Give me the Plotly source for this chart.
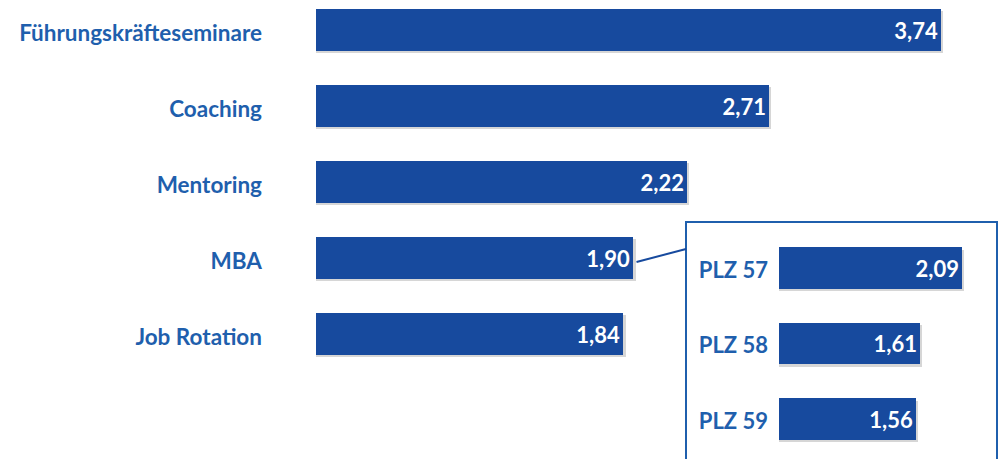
import plotly.graph_objects as go

categories = ["Führungskräfteseminare", "Coaching", "Mentoring", "MBA", "Job Rotation"]
values = [3.74, 2.71, 2.22, 1.90, 1.84]

plz_categories = ["PLZ 57", "PLZ 58", "PLZ 59"]
plz_values = [2.09, 1.61, 1.56]

BAR = "#174A9E"
LABEL = "#1F5FAD"
SHADOW = "#d6d6d6"
FONT = "Lato"

W, H = 1002, 459

def fmt(v):
    return f"{v:.2f}".replace(".", ",")

fig = go.Figure()

# main chart: shadow + bars
fig.add_trace(go.Bar(
    y=categories, x=[v + 0.014 for v in values], orientation="h",
    width=0.553, offset=-0.553 / 2 + 0.03,
    marker=dict(color=SHADOW, line=dict(width=0)),
    hoverinfo="skip", xaxis="x", yaxis="y", showlegend=False,
))
fig.add_trace(go.Bar(
    y=categories, x=values, orientation="h",
    width=0.553,
    marker=dict(color=BAR, line=dict(width=0)),
    text=[fmt(v) for v in values], textposition="inside",
    insidetextanchor="end", textangle=0,
    textfont=dict(family=FONT, size=22, color="white", weight="bold"),
    xaxis="x", yaxis="y", showlegend=False,
))

# inset chart
fig.add_trace(go.Bar(
    y=plz_categories, x=[v + 0.027 for v in plz_values], orientation="h",
    width=0.55, offset=-0.55 / 2 + 0.03,
    marker=dict(color=SHADOW, line=dict(width=0)),
    hoverinfo="skip", xaxis="x2", yaxis="y2", showlegend=False,
))
fig.add_trace(go.Bar(
    y=plz_categories, x=plz_values, orientation="h",
    width=0.55,
    marker=dict(color=BAR, line=dict(width=0)),
    text=[fmt(v) for v in plz_values], textposition="inside",
    insidetextanchor="end", textangle=0,
    textfont=dict(family=FONT, size=22, color="white", weight="bold"),
    xaxis="x2", yaxis="y2", showlegend=False,
))

# pixel scales
px_main = 167.1
px_row = 76.0
box_top = 222
box_left = 686

mba_idx = categories.index("MBA")
fig.add_shape(
    type="line", xref="x", yref="y",
    x0=values[mba_idx] + 3 / px_main, y0=mba_idx + 4 / px_row,
    x1=(box_left - 316) / px_main, y1=mba_idx - 9 / px_row,
    line=dict(color=BAR, width=2),
)
fig.add_shape(
    type="rect", xref="paper", yref="paper",
    x0=box_left / W, x1=997 / W, y0=-0.05, y1=1 - box_top / H,
    line=dict(color="#1F5FAD", width=2), fillcolor="rgba(0,0,0,0)", layer="below",
)

fig.update_layout(
    width=W, height=H,
    margin=dict(l=0, r=0, t=0, b=0),
    paper_bgcolor="white", plot_bgcolor="rgba(0,0,0,0)",
    barmode="overlay",
    bargap=0,
    font=dict(family=FONT),
    xaxis=dict(domain=[316 / W, 1], range=[0, (W - 316) / px_main],
               visible=False, fixedrange=True),
    yaxis=dict(domain=[0, 1], range=[(H - 30) / px_row, -30 / px_row],
               type="category", showgrid=False, zeroline=False, showline=False,
               ticks="", ticklabelstandoff=53, ticklabelshift=-3,
               tickfont=dict(family=FONT, size=22.5, color=LABEL, weight="bold")),
    xaxis2=dict(domain=[779 / W, 997 / W], range=[0, (997 - 779) / 87.6],
                visible=False, anchor="y2", fixedrange=True),
    yaxis2=dict(domain=[0, 1 - box_top / H],
                range=[(H - 268) / 75.5, (box_top - 268) / 75.5],
                type="category", anchor="x2", showgrid=False, zeroline=False,
                showline=False, ticks="", ticklabelstandoff=10, ticklabelshift=-2,
                tickfont=dict(family=FONT, size=22, color=LABEL, weight="bold")),
)

fig.write_html(
    "out.html",
    config={"displayModeBar": False},
    post_script="document.body.style.margin='0';document.body.style.overflow='hidden';",
)
